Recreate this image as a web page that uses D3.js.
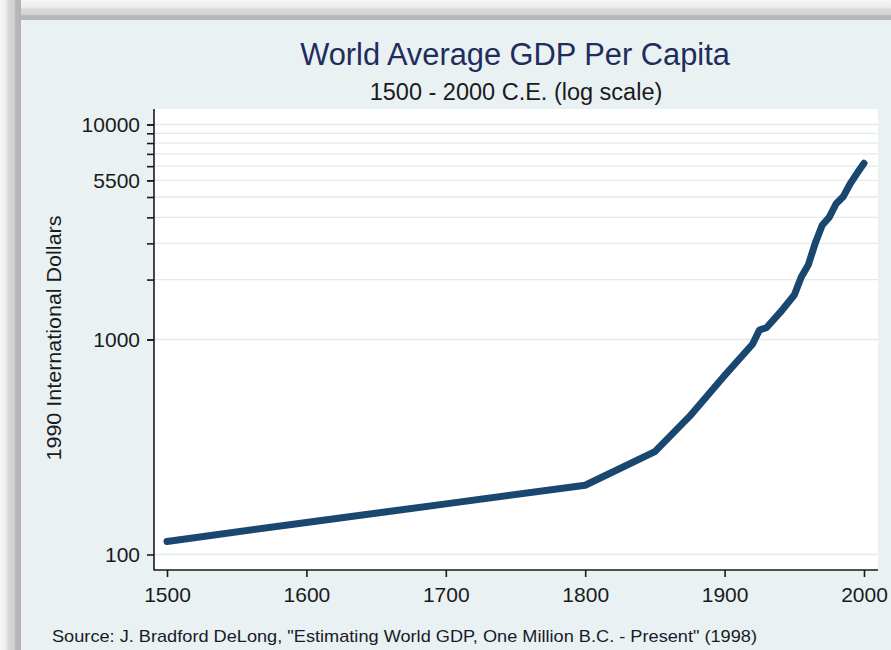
<!DOCTYPE html>
<html><head><meta charset="utf-8">
<script src="https://cdn.jsdelivr.net/npm/d3@7"></script>
<style>
body{margin:0;background:#fff}
svg{display:block}
text{font-family:"Liberation Sans",Arial,sans-serif}
</style>
</head><body>
<svg id="c" width="891" height="650"></svg>
<script>
// ---- data ----
const years = [1500,1600,1700,1800,1850,1875,1900,1920,1925,1930,1940,1950,1955,1960,1965,1970,1975,1980,1985,1990,1995,2000];
const gdp   = [115, 141, 172, 210, 301, 440, 680, 950, 1107,1134,1340,1610,1955,2220,2800,3400,3700,4280,4610,5290,5930,6600];
const xTickValues = [1500,1600,1700,1800,1900,2000];
const yLabelValues = [100,1000,5500,10000];
const yMinorValues = [1000,1900,2800,3700,4600,5500,6400,7300,8200,9100,10000];
const gridValues = [100,1000,1900,2800,3700,4600,5500,6400,7300,8200,9100,10000];
const titleText = "World Average GDP Per Capita";
const subtitleText = "1500 - 2000 C.E. (log scale)";
const yTitleText = "1990 International Dollars";
const sourceText = "Source: J. Bradford DeLong, \"Estimating World GDP, One Million B.C. - Present\" (1998)";

const svg = d3.select("#c");
const W = 891, H = 650;
const plot = {l:154, r:878, t:109, b:570};

// frame / shadow
const defs = svg.append("defs");
const gTop = defs.append("linearGradient").attr("id","gTop").attr("x1",0).attr("y1",0).attr("x2",0).attr("y2",1);
[[0,"#f7f7f7"],[0.35,"#ececec"],[0.45,"#dadada"],[0.72,"#d4d4d4"],[0.78,"#b9b9b9"],[1,"#b4b4b4"]]
  .forEach(s=>gTop.append("stop").attr("offset",s[0]).attr("stop-color",s[1]));
const gLeft = defs.append("linearGradient").attr("id","gLeft").attr("x1",0).attr("y1",0).attr("x2",1).attr("y2",0);
[[0,"#f7f7f7"],[0.3,"#ececec"],[0.38,"#d8d8d8"],[0.68,"#d2d2d2"],[0.75,"#b8b8b8"],[1,"#b2b2b2"]]
  .forEach(s=>gLeft.append("stop").attr("offset",s[0]).attr("stop-color",s[1]));

svg.append("rect").attr("width",W).attr("height",H).attr("fill","#f4f4f4");
svg.append("rect").attr("x",0).attr("y",0).attr("width",W).attr("height",20).attr("fill","url(#gTop)");
svg.append("rect").attr("x",0).attr("y",0).attr("width",21).attr("height",H).attr("fill","url(#gLeft)");
svg.append("rect").attr("x",21).attr("y",20).attr("width",W-21).attr("height",H-20).attr("fill","#e9f1f3");

// plot region
svg.append("rect").attr("x",plot.l).attr("y",plot.t).attr("width",plot.r-plot.l).attr("height",plot.b-plot.t).attr("fill","#ffffff");

const x = d3.scaleLinear().domain([1500,2000]).range([167,864]);
const y = d3.scaleLog().domain([100,10000]).range([554.5,124.5]);

// gridlines
svg.append("g").selectAll("line").data(gridValues).join("line")
  .attr("x1",plot.l).attr("x2",plot.r)
  .attr("y1",d=>y(d)).attr("y2",d=>y(d))
  .attr("stroke","#e2eaec").attr("stroke-width",1.3);

// line
const pts = years.map((yr,i)=>[yr,gdp[i]]);
svg.append("path").datum(pts)
  .attr("d", d3.line().x(d=>x(d[0])).y(d=>y(d[1])))
  .attr("fill","none").attr("stroke","#1a476f").attr("stroke-width",7)
  .attr("stroke-linejoin","round").attr("stroke-linecap","round");

// axes lines
svg.append("line").attr("x1",plot.l).attr("x2",plot.l).attr("y1",plot.t).attr("y2",plot.b+0.5).attr("stroke","#1a1a1a").attr("stroke-width",1.6);
svg.append("line").attr("x1",plot.l).attr("x2",plot.r).attr("y1",plot.b).attr("y2",plot.b).attr("stroke","#1a1a1a").attr("stroke-width",1.6);

// y axis ticks
const yMinor = svg.append("g").attr("transform",`translate(${plot.l},0)`)
  .call(d3.axisLeft(y).tickValues(yMinorValues).tickSize(7).tickFormat(""));
const yAx = svg.append("g").attr("transform",`translate(${plot.l},0)`)
  .call(d3.axisLeft(y).tickValues(yLabelValues).tickSize(7).tickPadding(7).tickFormat(d3.format("d")));
[yMinor,yAx].forEach(g=>{
  g.select(".domain").remove();
  g.selectAll(".tick line").attr("stroke","#1a1a1a").attr("stroke-width",1.6);
});
yAx.selectAll(".tick text").attr("font-size",21).attr("fill","#1a1a1a")
  .attr("font-family","'Liberation Sans',Arial,sans-serif");

// x axis
const xAx = svg.append("g").attr("transform",`translate(0,${plot.b})`)
  .call(d3.axisBottom(x).tickValues(xTickValues).tickSize(7).tickPadding(10).tickFormat(d3.format("d")));
xAx.select(".domain").remove();
xAx.selectAll(".tick line").attr("stroke","#1a1a1a").attr("stroke-width",1.6);
xAx.selectAll(".tick text").attr("font-size",21).attr("fill","#1a1a1a")
  .attr("font-family","'Liberation Sans',Arial,sans-serif");

// titles
svg.append("text").attr("x",515).attr("y",65).attr("text-anchor","middle")
  .attr("font-size",30.8).attr("fill","#1f2d5c").text(titleText);
svg.append("text").attr("x",516).attr("y",100).attr("text-anchor","middle")
  .attr("font-size",23.5).attr("fill","#1a1a1a").text(subtitleText);
svg.append("text").attr("transform","translate(61,338) rotate(-90)").attr("text-anchor","middle")
  .attr("font-size",20).attr("textLength",245).attr("lengthAdjust","spacingAndGlyphs")
  .attr("fill","#1a1a1a").text(yTitleText);
svg.append("text").attr("x",52).attr("y",642)
  .attr("font-size",17).attr("textLength",705).attr("lengthAdjust","spacingAndGlyphs")
  .attr("fill","#1a1a2a").text(sourceText);
</script>
</body></html>
